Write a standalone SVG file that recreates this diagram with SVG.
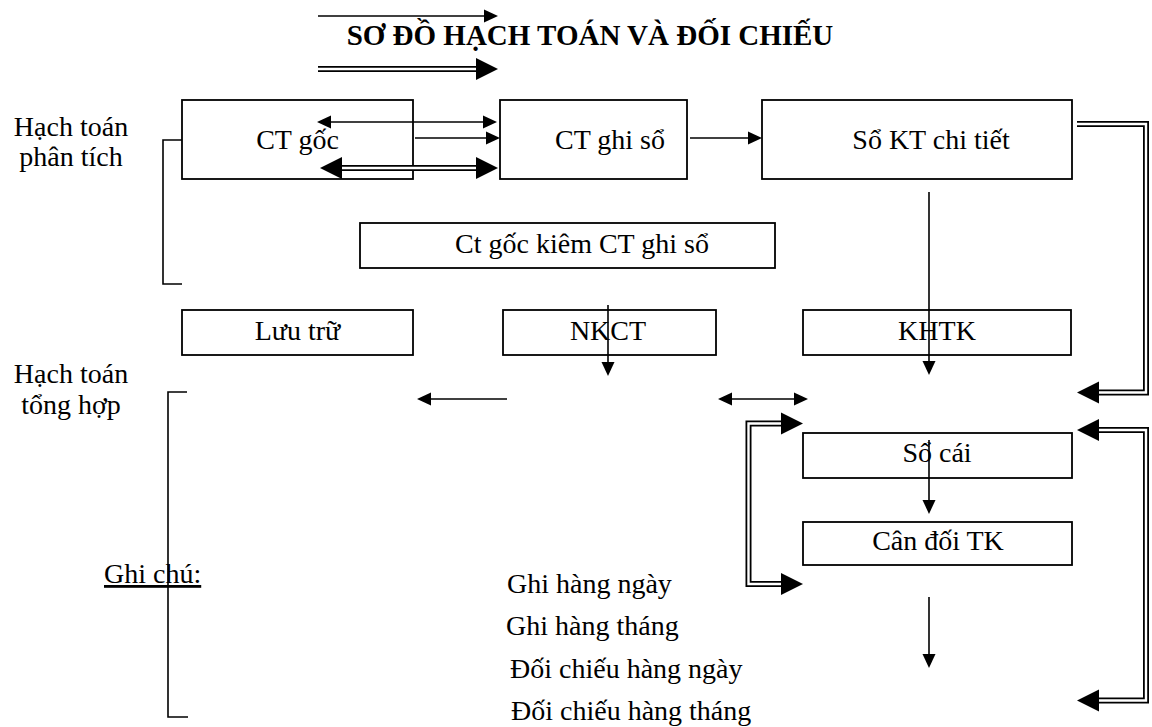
<svg xmlns="http://www.w3.org/2000/svg" width="1152" height="727" viewBox="0 0 1152 727">
<style>
text{font-family:"Liberation Serif","Times New Roman",serif;font-size:28px;fill:#000}
.c{text-anchor:middle}
.t{font-weight:bold;font-size:29px}
rect{fill:#fff;stroke:#000;stroke-width:1.8}
.th{fill:none;stroke:#000;stroke-width:1.6}
.br{fill:none;stroke:#000;stroke-width:1.6}
.dbo{fill:none;stroke:#000;stroke-width:6;stroke-linejoin:miter}
.dbi{fill:none;stroke:#fff;stroke-width:2.4;stroke-linejoin:miter}
</style>
<defs>
<marker id="ah" markerUnits="userSpaceOnUse" markerWidth="14" markerHeight="13" refX="0" refY="6.5" orient="auto-start-reverse" overflow="visible">
<path d="M0,0 L14,6.5 L0,13 z" fill="#000"/>
</marker>
<marker id="ahb" markerUnits="userSpaceOnUse" markerWidth="22" markerHeight="22" refX="0" refY="11" orient="auto-start-reverse" overflow="visible">
<path d="M0,0 L22,11 L0,22 z" fill="#000"/>
</marker>
</defs>

<text class="t c" x="590" y="45">SƠ ĐỒ HẠCH TOÁN VÀ ĐỐI CHIẾU</text>

<g id="n-ctgoc"><rect x="182" y="100" width="231" height="79"/><text class="c" x="297.5" y="149">CT gốc</text></g>
<g id="n-ctghiso"><rect x="500" y="100" width="187" height="79"/><text class="c" x="610" y="149">CT ghi sổ</text></g>
<g id="n-sokt"><rect x="762" y="100" width="310" height="79"/><text class="c" x="931" y="149">Sổ KT chi tiết</text></g>
<g id="n-kiem"><rect x="360" y="223" width="415" height="45"/><text class="c" x="582" y="253">Ct gốc kiêm CT ghi sổ</text></g>
<g id="n-luutru"><rect x="182" y="310" width="231" height="45"/><text class="c" x="297.5" y="340">Lưu trữ</text></g>
<g id="n-nkct"><rect x="503" y="310" width="213" height="45"/><text class="c" x="608" y="340">NKCT</text></g>
<g id="n-khtk"><rect x="803" y="310" width="268" height="45"/><text class="c" x="937" y="340">KHTK</text></g>
<g id="n-socai"><rect x="803" y="433" width="269" height="45"/><text class="c" x="937" y="462">Sổ cái</text></g>
<g id="n-candoi"><rect x="803" y="522" width="269" height="43"/><text class="c" x="938" y="550">Cân đối TK</text></g>

<g id="connectors">
<line class="th" x1="318" y1="16" x2="484" y2="16" marker-end="url(#ah)"/>
<line class="dbo" x1="318" y1="69" x2="476" y2="69" marker-end="url(#ahb)"/>
<line class="dbi" x1="318" y1="69" x2="476" y2="69"/>
<line class="th" x1="331" y1="122" x2="483" y2="122" marker-start="url(#ah)" marker-end="url(#ah)"/>
<line class="th" x1="415" y1="138" x2="486" y2="138" marker-end="url(#ah)"/>
<line class="dbo" x1="342" y1="168" x2="476" y2="168" marker-start="url(#ahb)" marker-end="url(#ahb)"/>
<line class="dbi" x1="342" y1="168" x2="476" y2="168"/>
<line class="th" x1="690" y1="138" x2="748" y2="138" marker-end="url(#ah)"/>
<line class="th" x1="929" y1="192" x2="929" y2="361" marker-end="url(#ah)"/>
<line class="th" x1="608" y1="305" x2="608" y2="362" marker-end="url(#ah)"/>
<line class="th" x1="929" y1="440" x2="929" y2="500" marker-end="url(#ah)"/>
<line class="th" x1="929" y1="597" x2="929" y2="654" marker-end="url(#ah)"/>
<line class="th" x1="507" y1="399" x2="431" y2="399" marker-end="url(#ah)"/>
<line class="th" x1="732" y1="399" x2="794" y2="399" marker-start="url(#ah)" marker-end="url(#ah)"/>
<path class="dbo" d="M781,423.5 H748.5 V584 H781" marker-start="url(#ahb)" marker-end="url(#ahb)"/>
<path class="dbi" d="M781,423.5 H748.5 V584 H781"/>
<path class="dbo" d="M1077,124 H1146 V392.5 H1099" marker-end="url(#ahb)"/>
<path class="dbi" d="M1077,124 H1146 V392.5 H1099"/>
<path class="dbo" d="M1099,430 H1146 V700.5 H1099" marker-start="url(#ahb)" marker-end="url(#ahb)"/>
<path class="dbi" d="M1099,430 H1146 V700.5 H1099"/>
<path class="br" d="M182,140 H163 V284 H182"/>
<path class="br" d="M187,392 H168 V717 H188"/>
</g>

<g id="labels">
<text class="c" x="71" y="136">Hạch toán</text>
<text class="c" x="71" y="166">phân tích</text>
<text class="c" x="71" y="383">Hạch toán</text>
<text class="c" x="71" y="414">tổng hợp</text>
<text x="104" y="583" text-decoration="underline">Ghi chú:</text>
<text x="507" y="593">Ghi hàng ngày</text>
<text x="506" y="635">Ghi hàng tháng</text>
<text x="510" y="678">Đối chiếu hàng ngày</text>
<text x="511" y="720">Đối chiếu hàng tháng</text>
</g>
</svg>
